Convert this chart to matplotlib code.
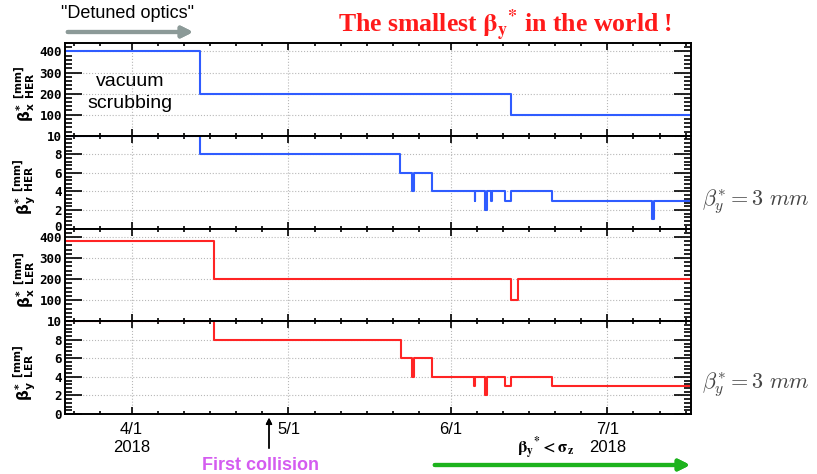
import numpy as np
import matplotlib
matplotlib.use("Agg")
import matplotlib.pyplot as plt
import matplotlib.dates as mdates
import matplotlib.transforms as mtransforms
from matplotlib.ticker import MultipleLocator, FixedLocator

# beta* history (change points, value holds until the next date)
her_bx_dates = ["2018-03-19", "2018-04-14", "2018-06-12 12:00", "2018-07-17"]
her_bx_vals = [400, 200, 100, 100]

her_by_dates = ["2018-03-19", "2018-04-14", "2018-05-22 08:00", "2018-05-24 16:00",
                "2018-05-25 00:00", "2018-05-28 10:00", "2018-06-05 16:00", "2018-06-05 18:00",
                "2018-06-07 16:00", "2018-06-08 00:00", "2018-06-08 18:00", "2018-06-08 22:00",
                "2018-06-11 08:00", "2018-06-12 12:00", "2018-06-20 12:00", "2018-07-09 14:00",
                "2018-07-09 21:00", "2018-07-17"]
her_by_vals = [10, 8, 6, 4, 6, 4, 3, 4, 2, 4, 3, 4, 3, 4, 3, 1, 3, 3]

ler_bx_dates = ["2018-03-19", "2018-04-16 20:00", "2018-06-12 12:00", "2018-06-13 20:00", "2018-07-17"]
ler_bx_vals = [380, 200, 100, 200, 200]

ler_by_dates = ["2018-03-19", "2018-04-16 20:00", "2018-05-22 12:00", "2018-05-24 16:00",
                "2018-05-25 00:00", "2018-05-28 10:00", "2018-06-05 12:00", "2018-06-05 16:00",
                "2018-06-07 16:00", "2018-06-08 00:00", "2018-06-11 08:00", "2018-06-12 12:00",
                "2018-06-20 12:00", "2018-07-17"]
ler_by_vals = [10, 8, 6, 4, 6, 4, 3, 4, 2, 4, 3, 4, 3, 3]

xlim = ["2018-03-19 06:00", "2018-07-17"]
month_ticks = ["2018-04-01", "2018-05-01", "2018-06-01", "2018-07-01"]
month_labels = ["4/1\n2018", "5/1", "6/1", "7/1\n2018"]

her_color = "#2f5cff"
ler_color = "#ff2424"

panels = [
    (her_bx_dates, her_bx_vals, her_color, "x", "HER", (0, 440), [100, 200, 300, 400], 20),
    (her_by_dates, her_by_vals, her_color, "y", "HER", (0, 10), [0, 2, 4, 6, 8, 10], 0.4),
    (ler_bx_dates, ler_bx_vals, ler_color, "x", "LER", (0, 440), [100, 200, 300, 400], 20),
    (ler_by_dates, ler_by_vals, ler_color, "y", "LER", (0, 10), [0, 2, 4, 6, 8, 10], 0.4),
]

W, H = 817, 474
fig = plt.figure(figsize=(W / 100, H / 100), dpi=100)
fig.subplots_adjust(left=65 / W, right=691 / W, top=1 - 43 / H, bottom=1 - 414 / H, hspace=0)
axes = fig.subplots(4, 1, sharex=True)

for i, (ax, (d, v, c, plane, ring, ylim, yt, ymin)) in enumerate(zip(axes, panels)):
    ax.step(np.array(d, dtype="datetime64[m]"), v, where="post", color=c, lw=1.5)
    ax.set_ylim(*ylim)
    ax.set_xlim(np.array(xlim, dtype="datetime64[m]"))
    ax.yaxis.set_major_locator(FixedLocator(yt))
    ax.yaxis.set_minor_locator(MultipleLocator(ymin))
    ax.xaxis.set_major_locator(FixedLocator(mdates.date2num(np.array(month_ticks, dtype="datetime64[D]"))))
    ax.xaxis.set_minor_locator(mdates.DayLocator(bymonthday=[6, 11, 16, 21, 26]))
    ax.grid(True, which="major", ls=":", color="#b8b8b8", lw=0.8)
    ax.tick_params(which="both", direction="in", top=True, right=True, width=1.2)
    ax.tick_params(axis="x", which="major", length=5, labelsize=12, pad=6)
    ax.tick_params(axis="x", which="minor", length=2.5)
    ax.tick_params(axis="y", which="major", length=12, pad=2)
    ax.tick_params(axis="y", which="minor", length=5)
    ylabs = ax.get_yticklabels()
    for lab in ylabs:
        lab.set_fontfamily("DejaVu Sans Mono")
        lab.set_fontweight("bold")
        lab.set_fontsize(9)
    if i == 1:
        # nudge the bottom "0" up a little so it clears the "400" below
        ylabs[0].set_transform(ylabs[0].get_transform() +
                               mtransforms.ScaledTranslation(0, 3 / 100, fig.dpi_scale_trans))
    for s in ax.spines.values():
        s.set_linewidth(1.4)
    pos = ax.get_position()
    fig.text(25 / W, pos.y0 + pos.height * 0.45,
             r"$\mathbf{\beta_%s^{*}}\ {}^{\mathbf{[mm]}}_{\mathbf{%s}}$" % (plane, ring),
             rotation=90, ha="center", va="center", fontsize=11, math_fontfamily="dejavusans")

axes[-1].set_xticklabels(month_labels, fontfamily="Liberation Sans")

# annotations
fig.text(127 / W, 1 - 14 / H, '"Detuned optics"', ha="center", va="center",
         fontsize=13, fontfamily="Liberation Sans")
fig.add_artist(plt.annotate("", xy=(196 / W, 1 - 32 / H), xytext=(65 / W, 1 - 32 / H),
                            xycoords="figure fraction",
                            arrowprops=dict(arrowstyle="-|>", lw=3, color="#8c9a98", mutation_scale=16)))
fig.text(505 / W, 1 - 25 / H, r"The smallest $\mathbf{\beta_y{}^{*}}$ in the world !",
         ha="center", va="center", fontsize=18.5, color="#ff1a1a", fontweight="bold",
         fontfamily="Liberation Serif", math_fontfamily="stix")
fig.text(130 / W, 1 - 81 / H, "vacuum", ha="center", va="center", fontsize=14, fontfamily="Liberation Sans")
fig.text(130 / W, 1 - 103 / H, "scrubbing", ha="center", va="center", fontsize=14, fontfamily="Liberation Sans")

for yy in (202, 385):
    fig.text(702 / W, 1 - yy / H, r"$\beta_y^{*} = 3\ mm$", ha="left", va="center",
             fontsize=16, color="#444444", math_fontfamily="cm")

fig.add_artist(plt.annotate("", xy=(269 / W, 1 - 415 / H), xytext=(269 / W, 1 - 451 / H),
                            xycoords="figure fraction",
                            arrowprops=dict(arrowstyle="-|>", lw=1, color="black", mutation_scale=9)))
fig.text(260 / W, 1 - 465 / H, "First collision", ha="center", va="center", fontsize=13,
         fontweight="bold", color="#d45cf0", fontfamily="Liberation Sans")

fig.text(545 / W, 1 - 448 / H, r"$\mathbf{\beta_y{}^{*} < \sigma_z}$", ha="center", va="center",
         fontsize=12, math_fontfamily="stix")
fig.add_artist(plt.annotate("", xy=(693 / W, 1 - 465 / H), xytext=(432 / W, 1 - 465 / H),
                            xycoords="figure fraction",
                            arrowprops=dict(arrowstyle="-|>", lw=3, color="#1db31d", mutation_scale=16)))

fig.savefig("out.png", dpi=100)
